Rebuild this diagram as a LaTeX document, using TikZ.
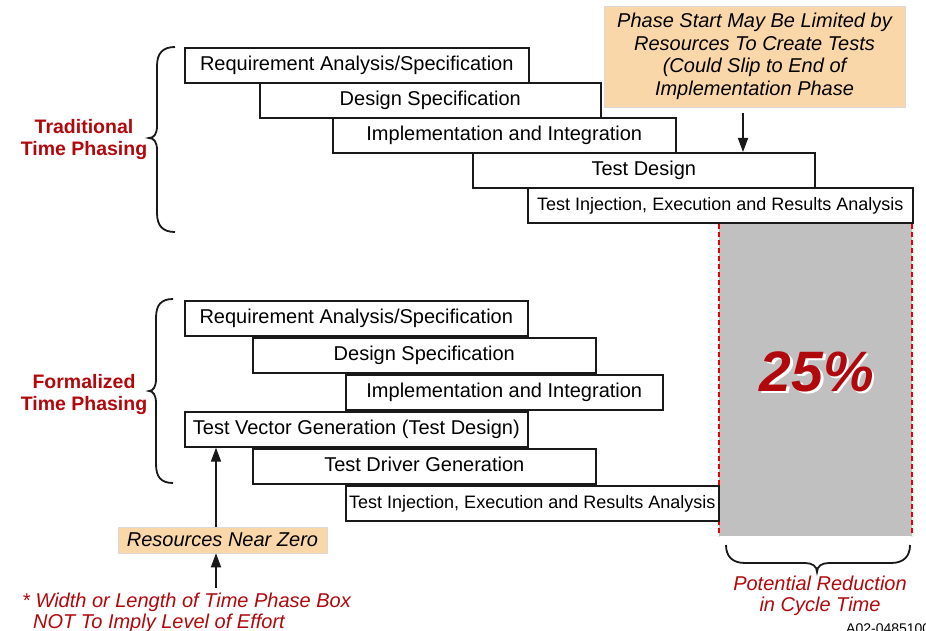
\documentclass[tikz,border=0pt]{standalone}
\usepackage{fontspec}
\setmainfont{Liberation Sans}
\usetikzlibrary{arrows.meta}
\definecolor{tred}{RGB}{176,8,12}
\definecolor{dred}{RGB}{232,0,0}
\definecolor{beige}{RGB}{250,215,168}
\definecolor{gbox}{RGB}{192,192,192}
\definecolor{ink}{RGB}{25,25,25}
\tikzset{
  phasebox/.style={draw=ink, line width=1.6pt, fill=white, anchor=north west,
    minimum height=35pt, inner sep=0pt, font=\fontsize{20}{22}\selectfont,
    text height=14pt, text depth=4pt},
  notebox/.style={fill=beige, draw=black!15, line width=0.6pt, inner sep=0pt, align=center,
    font=\fontsize{20}{22.5}\selectfont\itshape},
  grouplabel/.style={text=tred, align=center, font=\fontsize{19.5}{22}\selectfont\bfseries},
  redlabel/.style={text=tred, align=center, font=\fontsize{20}{21.5}\selectfont\itshape},
  footlabel/.style={text=tred, anchor=base west, inner sep=0pt, font=\fontsize{20}{22}\selectfont\itshape},
  arr/.style={draw=ink, line width=1.6pt, -{Triangle[length=14pt,width=10pt]}},
  curly/.style={draw=ink, line width=1.8pt},
  reddash/.style={draw=dred, line width=1.6pt, dash pattern=on 5pt off 3pt}
}
\begin{document}
\begin{tikzpicture}[x=1pt,y=-1pt]
\useasboundingbox (0,0) rectangle (926,631);

% gray reduction area
\fill[gbox] (719,224) rectangle (912,536);
\draw[reddash] (719,224) -- (719,536);
\draw[reddash] (912,224) -- (912,536);
\node[text=white, font=\fontsize{57}{60}\selectfont\bfseries\itshape] (pctshadow) at (819.5,374) {25\%};
\node[text=tred, font=\fontsize{57}{60}\selectfont\bfseries\itshape] (pct) at (817,372) {25\%};

% traditional phasing
\node[phasebox, minimum width=344pt] (t1) at (184,47) {Requirement Analysis/Specification};
\node[phasebox, minimum width=341pt] (t2) at (259,82) {Design Specification};
\node[phasebox, minimum width=343pt] (t3) at (332,117) {Implementation and Integration};
\node[phasebox, minimum width=342pt] (t4) at (472,152) {Test Design};
\node[phasebox, minimum width=385pt, font=\fontsize{18}{20}\selectfont] (t5) at (527,187) {Test Injection, Execution and Results Analysis};

% formalized phasing
\node[phasebox, minimum width=343pt] (b1) at (184,300) {Requirement Analysis/Specification};
\node[phasebox, minimum width=343pt] (b2) at (252,337) {Design Specification};
\node[phasebox, minimum width=317pt] (b3) at (345,374) {Implementation and Integration};
\node[phasebox, minimum width=343pt] (b4) at (184,411) {Test Vector Generation (Test Design)};
\node[phasebox, minimum width=343pt] (b5) at (252,448) {Test Driver Generation};
\node[phasebox, minimum width=373pt, font=\fontsize{18}{20}\selectfont] (b6) at (345,485) {Test Injection, Execution and Results Analysis};

% group labels
\node[grouplabel] (trad) at (84,139.5) {Traditional\\Time Phasing};
\node[grouplabel] (form) at (84,394) {Formalized\\Time Phasing};

% braces
\draw[curly] (175,47) .. controls (163,47) and (157,53) .. (157,66) -- (157,126)
  .. controls (157,134) and (154,138) .. (149,138)
  .. controls (154,138) and (157,142) .. (157,150) -- (157,213)
  .. controls (157,226) and (163,232) .. (175,232);
\draw[curly] (173,299) .. controls (161,299) and (156,305) .. (156,318) -- (156,379)
  .. controls (156,387) and (153,391) .. (149,391)
  .. controls (153,391) and (156,395) .. (156,403) -- (156,464)
  .. controls (156,477) and (161,483) .. (173,483);
\draw[curly] (726,545) .. controls (726,556) and (732,563) .. (745,563) -- (805,563)
  .. controls (812,563) and (817,566) .. (817,572)
  .. controls (817,566) and (822,563) .. (829,563) -- (891,563)
  .. controls (904,563) and (910,556) .. (910,545);

% callout
\node[notebox, minimum width=301pt, minimum height=101pt] (callout) at (754.5,56.5)
  {Phase Start May Be Limited by\\Resources To Create Tests\\(Could Slip to End of\\Implementation Phase};
\coordinate (ca) at (743,113);
\draw[arr] (ca) -- (ca |- t4.north);

% resources near zero
\node[notebox, minimum width=209pt, minimum height=26pt] (res) at (222.5,540) {Resources Near Zero};
\coordinate (r1) at (216,527);
\draw[arr] (r1) -- (r1 |- b4.south);
\coordinate (r2) at (216,588);
\draw[arr] (r2) -- (r2 |- res.south);

% footnote
\node[footlabel] (fn1) at (22,607) {* Width or Length of Time Phase Box};
\node[footlabel] (fn2) at (33,628) {NOT To Imply Level of Effort};

% potential reduction
\node[redlabel] (pot) at (820,596) {Potential Reduction\\in Cycle Time};

% figure id
\node[anchor=north west, inner sep=0pt, font=\fontsize{14}{16}\selectfont] (figid) at (846,624) {A02-0485100};
\end{tikzpicture}
\end{document}
